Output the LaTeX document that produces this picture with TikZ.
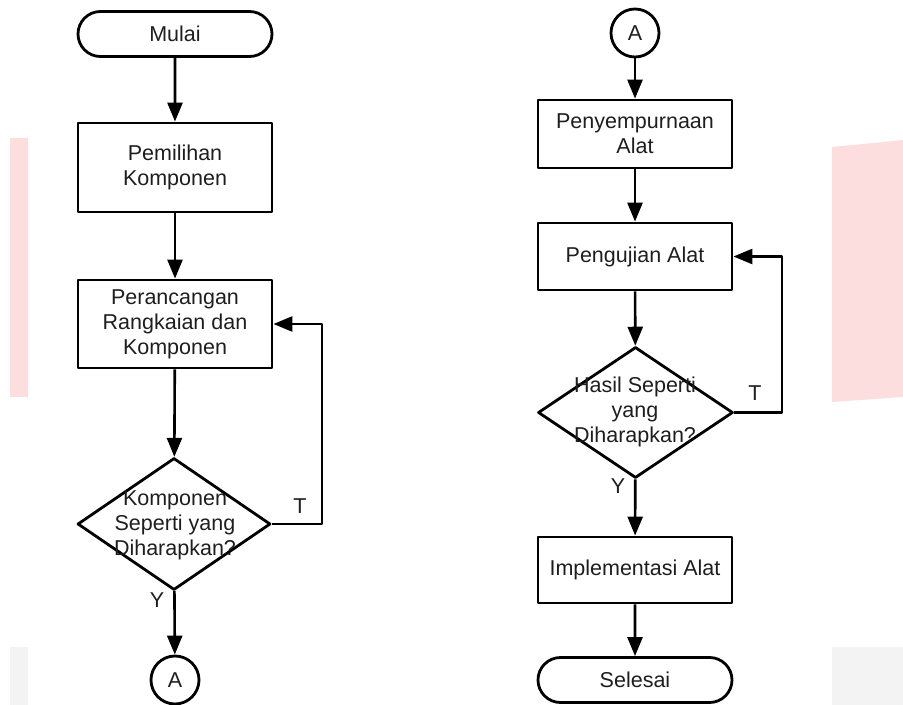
\documentclass[tikz,border=0pt]{standalone}
\usepackage{fontspec}
\setmainfont{Liberation Sans}
\usetikzlibrary{shapes.geometric,shapes.misc,arrows.meta}

\definecolor{wmpink}{HTML}{FDDEDE}
\definecolor{wmgray}{HTML}{F3F3F3}
\definecolor{txtgray}{HTML}{1E1E1E}

\tikzset{
  terminal/.style={draw, rounded rectangle, minimum width=194bp, minimum height=45bp, inner sep=0pt},
  process/.style={draw, rectangle, minimum width=194bp, align=center, inner sep=0pt},
  decision/.style={draw, diamond, minimum width=193bp, minimum height=132bp, inner sep=0pt},
  connector/.style={draw, circle, minimum size=48bp, inner sep=0pt},
  flow/.style={-{Triangle[length=19bp,width=15bp]}, line width=2.6bp},
}

\begin{document}
\begin{tikzpicture}[x=1bp, y=-1bp, line width=2.8bp, line join=round,
  font=\fontsize{21.5bp}{25bp}\selectfont, text=txtgray]

\useasboundingbox (0,0) rectangle (903,705);

% faded page marks behind the chart
\fill[wmpink] (10,138) rectangle (28,397);
\fill[wmpink] (832,147) -- (903,140) -- (903,397) -- (832,402) -- cycle;
\fill[wmgray] (10,647) rectangle (28,705);
\fill[wmgray] (832,647) rectangle (903,705);

% left column
\node [terminal] (mulai) at (175,34) {Mulai};
\node [process, minimum height=89bp] (pilih) at (175,167.5) {Pemilihan\\Komponen};
\node [process, minimum height=88bp] (rancang) at (175,324) {Perancangan\\Rangkaian dan\\Komponen};
\node [decision] (cek1) at (174,524) {};
\node [align=center] (cek1txt) at (175,525) {Komponen\\Seperti yang\\Diharapkan?};
\node [connector] (keA) at (175,680) {A};

\coordinate (balik1) at (322,324);

\draw[flow] (mulai) -- (pilih);
\draw[flow] (pilih) -- (rancang);
\draw[flow] (rancang) -- (cek1);
\draw[flow] (cek1) -- (keA);
\draw[flow] (cek1.east) -| (balik1) -- (rancang.east);

\node (t1) at (300,506) {T};
\node (y1) at (157,600) {Y};

% right column
\node [connector] (dariA) at (635,33) {A};
\node [process, minimum height=68bp] (sempurna) at (635,134) {Penyempurnaan\\Alat};
\node [process, minimum height=67bp] (uji) at (635,256.5) {Pengujian Alat};
\node [decision, minimum width=195bp, minimum height=131bp] (cek2) at (635.5,412.5) {};
\node [align=center] (cek2txt) at (635,412) {Hasil Seperti\\yang\\Diharapkan?};
\node [process, minimum height=66bp] (impl) at (635,570) {Implementasi Alat};
\node [terminal] (selesai) at (635,680) {Selesai};

\coordinate (balik2) at (782,256.5);

\draw[flow] (dariA) -- (sempurna);
\draw[flow] (sempurna) -- (uji);
\draw[flow] (uji) -- (cek2);
\draw[flow] (cek2) -- (impl);
\draw[flow] (impl) -- (selesai);
\draw[flow] (cek2.east) -| (balik2) -- (uji.east);

\node (t2) at (755,393) {T};
\node (y2) at (618,486) {Y};

\end{tikzpicture}
\end{document}
